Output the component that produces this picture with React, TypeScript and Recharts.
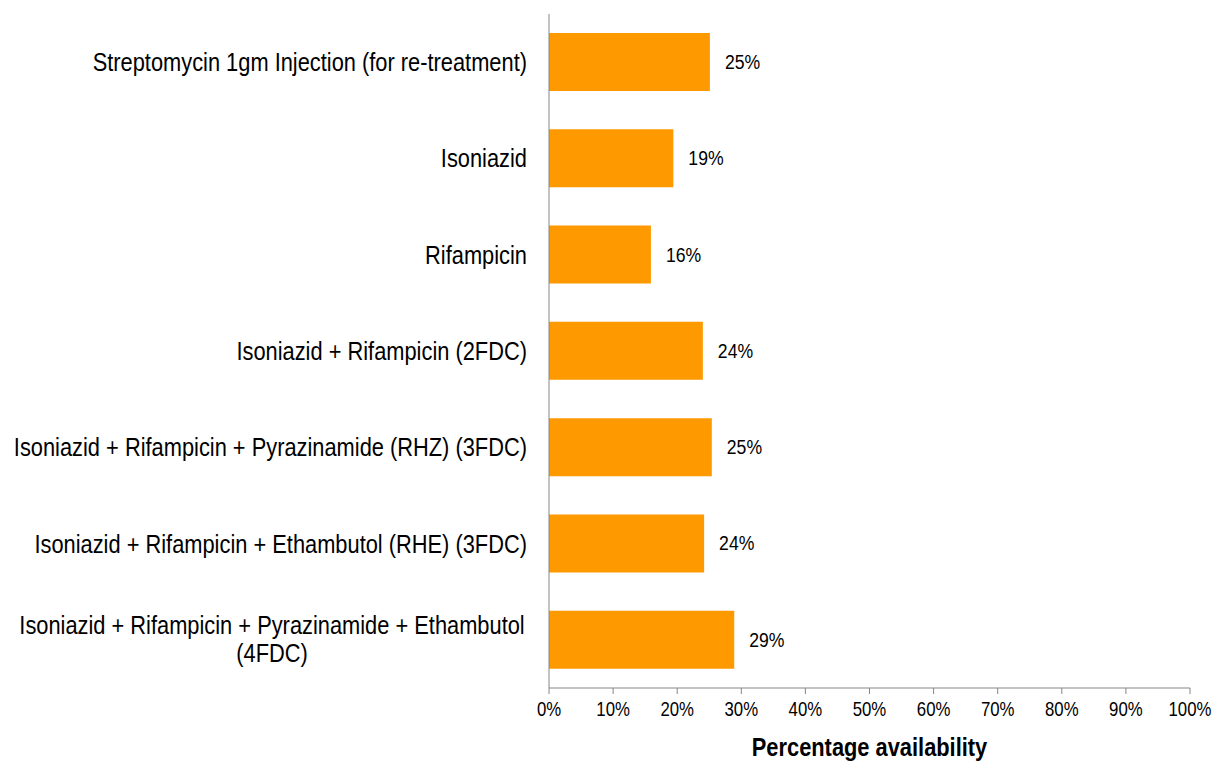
import * as React from 'react';
import { BarChart, Bar, XAxis, YAxis, LabelList } from 'recharts';

const categories = [
  'Streptomycin 1gm Injection (for re-treatment)',
  'Isoniazid',
  'Rifampicin',
  'Isoniazid + Rifampicin (2FDC)',
  'Isoniazid + Rifampicin + Pyrazinamide (RHZ) (3FDC)',
  'Isoniazid + Rifampicin + Ethambutol (RHE) (3FDC)',
  'Isoniazid + Rifampicin + Pyrazinamide + Ethambutol (4FDC)',
];

// percentage availability
const availability = [25.1, 19.4, 15.9, 24.0, 25.4, 24.2, 28.9];

const xTicks = [0, 10, 20, 30, 40, 50, 60, 70, 80, 90, 100];

const data = categories.map((name, i) => ({ name, value: availability[i] }));

// no Arial Narrow here, so squeeze Liberation Sans horizontally
const FONT = '"Liberation Sans", Arial, sans-serif';
const SX = 0.84;
const AXIS = '#868686';
const BAR = '#FF9900';

function Narrow({ x, y, anchor = 'start', size, weight = 'normal', children }: any) {
  return (
    <text
      transform={`translate(${x},${y}) scale(${SX},1)`}
      textAnchor={anchor}
      fontSize={size}
      fontWeight={weight}
      fontFamily={FONT}
      fill="#000"
    >
      {children}
    </text>
  );
}

// wrap long names into lines of at most maxChars
function wrap(text: string, maxChars: number): string[] {
  const words = text.split(' ');
  const lines: string[] = [];
  let cur = '';
  for (const w of words) {
    const next = cur ? cur + ' ' + w : w;
    if (next.length > maxChars && cur) {
      lines.push(cur);
      cur = w;
    } else {
      cur = next;
    }
  }
  if (cur) lines.push(cur);
  return lines;
}

function CategoryTick({ x, y, payload }: any) {
  const lines = wrap(payload.value, 52);
  const right = x - 14;
  if (lines.length === 1) {
    return (
      <Narrow x={right} y={y + 9} anchor="end" size={26}>
        {lines[0]}
      </Narrow>
    );
  }
  const center = right - 255;
  const lh = 28;
  return (
    <g>
      {lines.map((l, i) => (
        <Narrow key={i} x={center} y={y + 8 + (i - (lines.length - 1) / 2) * lh} anchor="middle" size={26}>
          {l}
        </Narrow>
      ))}
    </g>
  );
}

function PercentTick({ x, y, payload }: any) {
  return (
    <Narrow x={x} y={y + 20} anchor="middle" size={20}>
      {`${payload.value}%`}
    </Narrow>
  );
}

function ValueLabel({ x, y, width, height, value }: any) {
  return (
    <Narrow x={x + width + 15} y={y + height / 2 + 7} size={21}>
      {`${Math.round(Number(value))}%`}
    </Narrow>
  );
}

function AxisTitle({ viewBox }: any) {
  const cx = viewBox.x + viewBox.width / 2;
  return (
    <Narrow x={cx} y={756} anchor="middle" size={26} weight="bold">
      Percentage availability
    </Narrow>
  );
}

export default function App() {
  return (
    <div style={{ position: 'absolute', left: 0, top: 0, background: '#fff' }}>
      <BarChart
        width={1216}
        height={762}
        data={data}
        layout="vertical"
        margin={{ top: 14, right: 26, bottom: 0, left: 0 }}
      >
        <XAxis
          type="number"
          domain={[0, 100]}
          ticks={xTicks}
          interval={0}
          stroke={AXIS}
          tickLine={{ stroke: AXIS }}
          tickSize={6}
          tick={<PercentTick />}
          height={74}
          label={<AxisTitle />}
        />
        <YAxis
          type="category"
          dataKey="name"
          width={549}
          stroke={AXIS}
          tickLine={false}
          interval={0}
          tick={<CategoryTick />}
        />
        <Bar dataKey="value" fill={BAR} barSize={58} isAnimationActive={false}>
          <LabelList dataKey="value" content={<ValueLabel />} />
        </Bar>
      </BarChart>
    </div>
  );
}
